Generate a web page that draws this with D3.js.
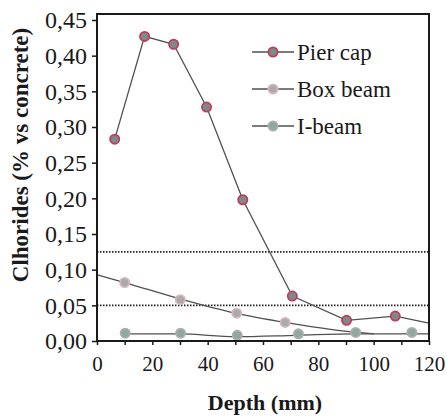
<!DOCTYPE html>
<html>
<head>
<meta charset="utf-8">
<script src="https://cdn.jsdelivr.net/npm/d3@7"></script>
<style>
  body { margin: 0; background: #fff; }
  svg { display: block; }
</style>
</head>
<body>
<div id="chart"></div>
<script>
// measured points
const pierDepth = [6.4, 17.2, 27.7, 39.6, 52.7, 70.6, 90.2, 107.8];
const pierCl    = [0.283, 0.427, 0.416, 0.328, 0.198, 0.063, 0.029, 0.035];
const boxDepth  = [10.0, 30.1, 50.5, 68.0];
const boxCl     = [0.082, 0.058, 0.039, 0.026];
const iDepth    = [10.2, 30.2, 50.7, 72.8, 93.5, 113.8];
const iCl       = [0.011, 0.011, 0.008, 0.010, 0.012, 0.012];

// drawn curves
const pierLineDepth = [6.4, 17.2, 27.7, 39.6, 52.7, 70.6, 90.2, 107.8, 120];
const pierLineCl    = [0.283, 0.427, 0.416, 0.328, 0.198, 0.063, 0.029, 0.035, 0.025];
const boxLineDepth  = [0, 10, 30, 50, 68, 85, 100];
const boxLineCl     = [0.093, 0.082, 0.059, 0.039, 0.026, 0.016, 0.010];
const iLineDepth    = [10, 30, 50, 72, 93, 120];
const iLineCl       = [0.010, 0.010, 0.006, 0.008, 0.010, 0.010];

const limits = [0.125, 0.05];
const yTicks = [0, 0.05, 0.10, 0.15, 0.20, 0.25, 0.30, 0.35, 0.40, 0.45];
const xTicks = [0, 10, 20, 30, 40, 50, 60, 70, 80, 90, 100, 110, 120];
const legendNames = ["Pier cap", "Box beam", "I-beam"];

const W = 447, H = 418;
const mLeft = 97, mRight = 429, mTop = 14, mBottom = 341;
const serif = "'Liberation Serif', 'Times New Roman', serif";

const svg = d3.select("#chart").append("svg")
    .attr("width", W).attr("height", H);

const x = d3.scaleLinear().domain([0, 120]).range([mLeft, mRight]);
const y = d3.scaleLinear().domain([0, 0.45]).range([mBottom, 20]);

const fmt = d => d3.format(".2f")(d).replace(".", ",");

// dotted limit lines
svg.selectAll(".limit")
    .data(limits)
    .enter().append("line")
    .attr("x1", x(0)).attr("x2", x(120))
    .attr("y1", d => y(d)).attr("y2", d => y(d))
    .attr("stroke", "#222")
    .attr("stroke-width", 1.6)
    .attr("stroke-dasharray", "1.5,1.5");

const line = d3.line().x(d => x(d[0])).y(d => y(d[1]));
const smooth = d3.line().x(d => x(d[0])).y(d => y(d[1])).curve(d3.curveMonotoneX);

const zip = (a, b) => a.map((v, i) => [v, b[i]]);

svg.append("path")
    .attr("d", smooth(zip(boxLineDepth, boxLineCl)))
    .attr("fill", "none").attr("stroke", "#505050").attr("stroke-width", 1.3);
svg.append("path")
    .attr("d", smooth(zip(iLineDepth, iLineCl)))
    .attr("fill", "none").attr("stroke", "#505050").attr("stroke-width", 1.3);
svg.append("path")
    .attr("d", line(zip(pierLineDepth, pierLineCl)))
    .attr("fill", "none").attr("stroke", "#505050").attr("stroke-width", 1.3);

const styles = [
    { fill: "#7d8a87", stroke: "#c43a5e" },
    { fill: "#a9abaa", stroke: "#dcb5be" },
    { fill: "#8fa9a1", stroke: "#a9b0ad" }
];

function markers(xs, ys, s) {
    svg.append("g").selectAll("circle")
        .data(zip(xs, ys))
        .enter().append("circle")
        .attr("cx", d => x(d[0]))
        .attr("cy", d => y(d[1]))
        .attr("r", 4.6)
        .attr("fill", s.fill)
        .attr("stroke", s.stroke)
        .attr("stroke-width", 1.8);
}
markers(boxDepth, boxCl, styles[1]);
markers(iDepth, iCl, styles[2]);
markers(pierDepth, pierCl, styles[0]);

// frame
svg.append("rect")
    .attr("x", mLeft).attr("y", mTop)
    .attr("width", mRight - mLeft).attr("height", mBottom - mTop)
    .attr("fill", "none").attr("stroke", "#1a1a1a").attr("stroke-width", 2);

// axes
const yAxis = svg.append("g")
    .attr("transform", `translate(${mLeft},0)`)
    .call(d3.axisLeft(y).tickValues(yTicks).tickFormat(fmt).tickSize(5).tickPadding(5));
const xAxis = svg.append("g")
    .attr("transform", `translate(0,${mBottom})`)
    .call(d3.axisBottom(x).tickValues(xTicks)
        .tickFormat(d => d % 20 === 0 ? d : "").tickSize(4).tickPadding(11));

[yAxis, xAxis].forEach(a => {
    a.attr("font-family", null).attr("font-size", null);
    a.select(".domain").remove();
    a.selectAll("line").attr("stroke", "#1a1a1a").attr("stroke-width", 1.5);
    a.selectAll("text")
        .attr("fill", "#1a1a1a")
        .style("font-family", serif);
});
yAxis.selectAll("text").style("font-size", "24px");
xAxis.selectAll("text").style("font-size", "21px");

// legend
const leg = svg.append("g");
legendNames.forEach((name, i) => {
    const ly = 52 + i * 37;
    leg.append("line")
        .attr("x1", 252).attr("x2", 294)
        .attr("y1", ly).attr("y2", ly)
        .attr("stroke", "#505050").attr("stroke-width", 1.3);
    leg.append("circle")
        .attr("cx", 273).attr("cy", ly).attr("r", 4.6)
        .attr("fill", styles[i].fill)
        .attr("stroke", styles[i].stroke)
        .attr("stroke-width", 1.8);
    leg.append("text")
        .attr("x", 297).attr("y", ly)
        .attr("dy", "0.33em")
        .style("font-family", serif)
        .style("font-size", "23px")
        .attr("fill", "#1a1a1a")
        .text(name);
});

// axis titles
svg.append("text")
    .attr("transform", "translate(20,155) rotate(-90)")
    .attr("text-anchor", "middle")
    .attr("dy", "0.35em")
    .style("font-family", serif)
    .style("font-size", "23px")
    .style("font-weight", "bold")
    .attr("fill", "#1a1a1a")
    .text("Clhorides (% vs concrete)");

svg.append("text")
    .attr("x", 265).attr("y", 410)
    .attr("text-anchor", "middle")
    .style("font-family", serif)
    .style("font-size", "22px")
    .style("font-weight", "bold")
    .attr("fill", "#1a1a1a")
    .text("Depth (mm)");
</script>
</body>
</html>
